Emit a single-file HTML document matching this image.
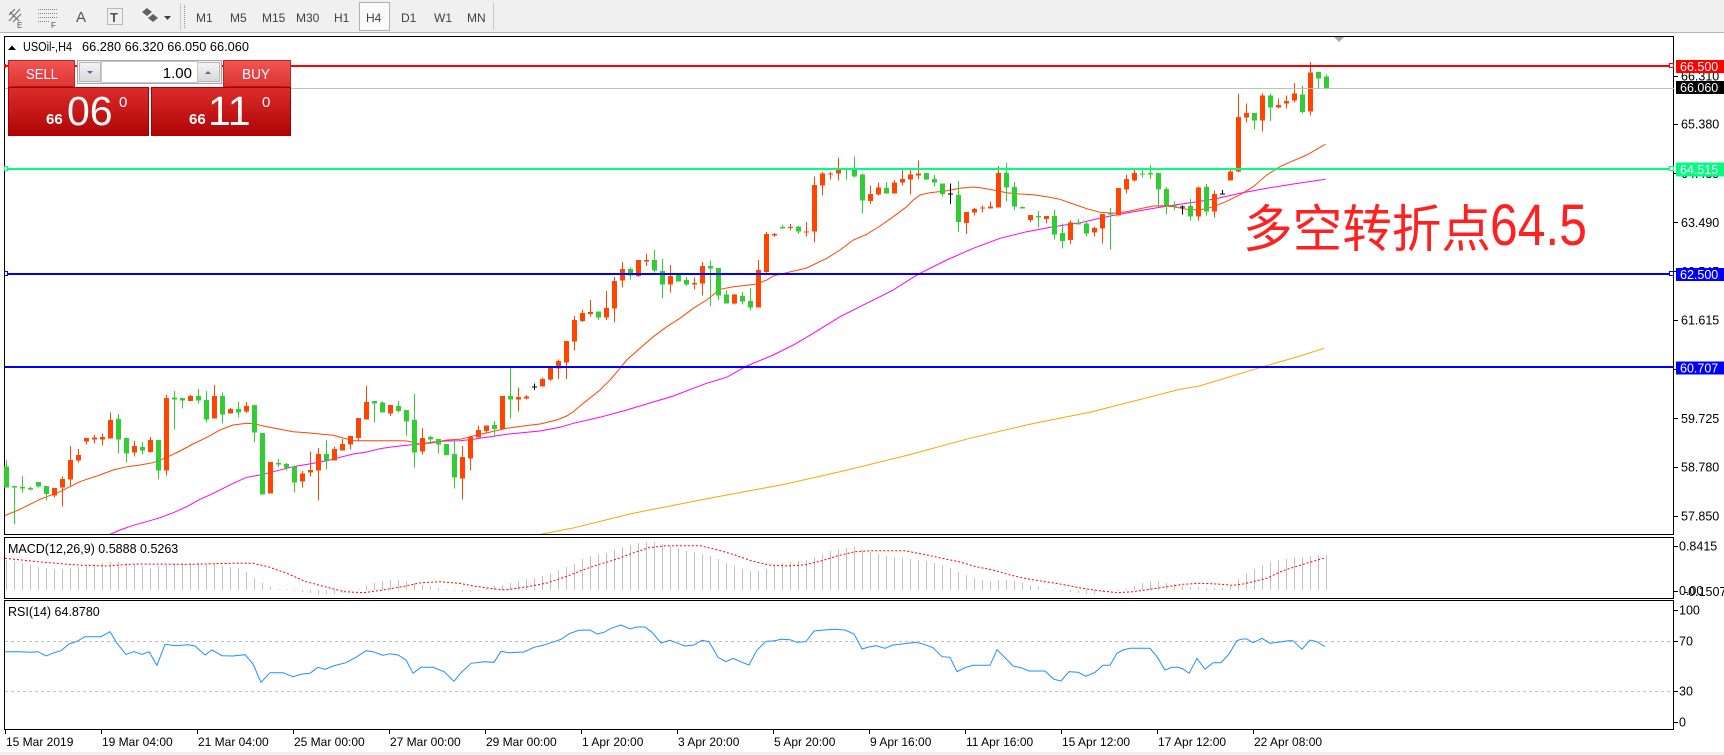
<!DOCTYPE html>
<html><head><meta charset="utf-8">
<style>
html,body{margin:0;padding:0;background:#fff;}
body{width:1724px;height:755px;overflow:hidden;}
svg{display:block;font-family:"Liberation Sans","Noto Sans CJK SC",sans-serif;}
</style></head><body>
<svg width="1724" height="755" viewBox="0 0 1724 755" xmlns="http://www.w3.org/2000/svg">
<defs>
<linearGradient id="gt" x1="0" y1="0" x2="0" y2="1"><stop offset="0" stop-color="#F25454"/><stop offset="1" stop-color="#DC3434"/></linearGradient>
<linearGradient id="gp" x1="0" y1="0" x2="0" y2="1"><stop offset="0" stop-color="#DC2C2C"/><stop offset="1" stop-color="#B00404"/></linearGradient>
<linearGradient id="gb" x1="0" y1="0" x2="0" y2="1"><stop offset="0" stop-color="#F4F4F4"/><stop offset="1" stop-color="#D8D8D8"/></linearGradient>
<clipPath id="cm"><rect x="5" y="37" width="1668" height="497"/></clipPath>
<clipPath id="cd"><rect x="5" y="538" width="1668" height="60"/></clipPath>
<clipPath id="cr"><rect x="5" y="601" width="1668" height="128"/></clipPath>
</defs>

<!-- toolbar -->
<rect x="0" y="0" width="1724" height="32" fill="#F0F0F0"/>
<line x1="0" y1="32.5" x2="1724" y2="32.5" stroke="#B4B4B4"/>
<g stroke="#707070" fill="none" stroke-width="1.2">
<path d="M9 21 L20 9 M9 15 L15 9 M13 22 L21 14 M10 12 L19 21"/>
</g>
<text x="17" y="28" font-size="8" fill="#505050">E</text>
<g stroke="#808080" stroke-dasharray="1 1">
<line x1="38" y1="9.5" x2="58" y2="9.5"/><line x1="38" y1="13.5" x2="58" y2="13.5"/><line x1="38" y1="17.5" x2="58" y2="17.5"/><line x1="38" y1="21.5" x2="50" y2="21.5"/>
</g>
<text x="51" y="28" font-size="8" fill="#505050">F</text>
<text x="76" y="22" font-size="15" fill="#555">A</text>
<rect x="107.5" y="8.5" width="15" height="16" fill="none" stroke="#808080" stroke-dasharray="1 1"/>
<text x="110" y="22" font-size="13" font-weight="bold" fill="#555">T</text>
<path d="M142 12 l5 -4 l5 4 l-5 4z M148 18 l5 -4 l5 4 l-5 4z" fill="#606060"/>
<path d="M164 16 h7 l-3.5 4z" fill="#404040"/>
<line x1="180.5" y1="3" x2="180.5" y2="30" stroke="#C8C8C8"/>
<line x1="184.5" y1="5" x2="184.5" y2="28" stroke="#909090" stroke-dasharray="1 1"/>
<rect x="359.5" y="2.5" width="30" height="28" fill="#FAFAFA" stroke="#B0B0B0"/>
<g font-size="12" fill="#404040">
<text x="196" y="22">M1</text><text x="230" y="22">M5</text><text x="262" y="22">M15</text><text x="296" y="22">M30</text>
<text x="334" y="22">H1</text><text x="366" y="22">H4</text><text x="401" y="22">D1</text><text x="434" y="22">W1</text><text x="467" y="22">MN</text>
</g>
<line x1="493.5" y1="3" x2="493.5" y2="30" stroke="#C8C8C8"/>

<!-- panels -->
<g fill="none" stroke="#000" stroke-width="1" shape-rendering="crispEdges">
<rect x="4.5" y="36.5" width="1669" height="498"/>
<rect x="4.5" y="537.5" width="1669" height="61"/>
<rect x="4.5" y="600.5" width="1669" height="129"/>
</g>

<!-- moving averages -->
<g clip-path="url(#cm)" fill="none" stroke-width="1">
<polyline stroke="#FFA500" points="537,535 571.8,528.3 633,513.3 709.5,498.3 786,484 847.3,470 908.5,455 969.7,438.3 1030.9,424 1092,411.7 1138,400 1180,389.3 1199.2,386 1263,366.7 1300,356 1324,348.3"/>
<polyline stroke="#FF00FF" points="108.3,535 120,530 133.3,525.3 150,520.7 160,517.7 173.3,512.7 186.7,506.7 200,499.3 213.3,493.3 233.3,483.3 246.7,477.3 260,475 273.3,471.7 293.3,466.7 313.3,463.3 326.7,460.7 340,457.3 353.3,454 366.7,452 380,448.7 393.3,446.7 406.7,445.3 420,444 433.3,442 446.7,441 460,440.7 473.3,439.3 506.7,434.3 540,431 560,427.3 573.3,423.3 600,417.3 626.7,410 653.3,402 673.3,396 693.3,388.3 706.7,383.3 726.7,377.3 746.7,366 773.3,355 793.3,345 813.3,333.3 840,316.7 866.7,303.3 893.3,290 910,279.3 920,273.3 946.7,260 973.3,248.3 1000,238.3 1026.7,231.7 1053.3,226.7 1080,222.7 1106.7,216.7 1133.3,211.7 1160,207.3 1186.7,203.3 1213.3,199.3 1240,193.3 1266.7,188.3 1293.3,184 1325.3,179.3"/>
<polyline stroke="#FF4500" points="4,516 20,509.3 40,499.3 60,491.7 80,481.7 86.7,479.3 100,475 113,470 127,466.7 140,465 153,462.7 167,457.3 180,451 193,444 207,437.3 220,430 233,425 247,423.3 253,423.7 267,426.7 280,429.3 293,431.7 307,432.7 320,434 333,435.3 347,439 353,440.7 373,440.7 400,440.7 407,441 420,444 433,442.7 447,440 460,439.3 473.3,436 506.7,428.3 523.3,426 540,424 556.7,420 566.7,416 573.3,411.7 583.3,403.3 600,390 610,380 620,368.3 626.7,360 640,348.3 653.3,336.7 666.7,326.7 680,318.3 693.3,308.3 706.7,300 720,289.3 733.3,286.7 746.7,285.3 756.7,284 766.7,280 773.3,276 786.7,272.7 806.7,268 826.7,258.3 840,250 853.3,240 866.7,234.3 880,226 893.3,216.7 906.7,206.7 913.3,200 920,195 930,192.7 946.7,190.7 960,188.3 973.3,187 980,187.7 993.3,190 1006.7,192.7 1020,194 1033.3,194.7 1046.7,196.7 1060,199.3 1073.3,204 1086.7,208.7 1100,212.3 1113.3,213.3 1126.7,211.7 1140,208.7 1153.3,206 1163.3,205.7 1173.3,206.7 1186.7,209.3 1200,210 1213.3,206.7 1226.7,201.3 1240,194.7 1253.3,186.7 1266.7,175 1280,166.7 1293.3,160.7 1306.7,155 1325.3,144.3"/>
</g>

<!-- candles -->
<g shape-rendering="crispEdges">
<g transform="translate(0,340) scale(1,0.333333)">
<path fill="#FF4500" d="M54 444h1v28h-1z M52 444h5v22h-5z M62 410h1v90h-1z M60 417h5v26h-5z M70 318h1v122h-1z M68 360h5v59h-5z M78 327h1v41h-1z M76 345h5v17h-5z M86 294h1v20h-1z M84 294h5v11h-5z M94 285h1v26h-1z M92 293h5v6h-5z M102 280h1v37h-1z M100 291h5v8h-5z M110 218h1v78h-1z M108 240h5v56h-5z M134 303h1v47h-1z M132 318h5v20h-5z M150 291h1v47h-1z M148 300h5v36h-5z M166 165h1v242h-1z M164 174h5v218h-5z M190 165h1v18h-1z M188 168h5v15h-5z M214 135h1v101h-1z M212 168h5v68h-5z M230 204h1v17h-1z M228 207h5v14h-5z M246 186h1v33h-1z M244 198h5v17h-5z M270 366h1v95h-1z M268 366h5v95h-5z M302 393h1v50h-1z M300 400h5v25h-5z M310 335h1v75h-1z M308 390h5v8h-5z M318 324h1v158h-1z M316 342h5v50h-5z M334 320h1v42h-1z M332 327h5v35h-5z M342 297h1v35h-1z M340 312h5v20h-5z M350 288h1v41h-1z M348 288h5v26h-5z M358 234h1v68h-1z M356 234h5v60h-5z M366 138h1v101h-1z M364 186h5v53h-5z M390 195h1v33h-1z M388 195h5v26h-5z M422 264h1v80h-1z M420 294h5v41h-5z M462 318h1v161h-1z M460 351h5v65h-5z M470 288h1v104h-1z M468 291h5v65h-5z"/>
<path fill="#32CD32" d="M6 360h1v83h-1z M4 380h5v63h-5z M14 438h1v114h-1z M12 438h5v5h-5z M22 408h1v50h-1z M20 441h5v5h-5z M30 440h1v12h-1z M28 444h5v5h-5z M38 426h1v16h-1z M36 426h5v14h-5z M46 438h1v44h-1z M44 438h5v24h-5z M118 222h1v119h-1z M116 237h5v62h-5z M126 292h1v76h-1z M124 294h5v47h-5z M142 306h1v38h-1z M140 321h5v11h-5z M158 300h1v119h-1z M156 300h5v92h-5z M174 153h1v116h-1z M172 172h5v7h-5z M182 174h1v32h-1z M180 174h5v8h-5z M198 147h1v43h-1z M196 168h5v14h-5z M206 153h1v94h-1z M204 180h5v59h-5z M222 158h1v93h-1z M220 168h5v56h-5z M238 186h1v47h-1z M236 207h5v11h-5z M254 195h1v113h-1z M252 195h5v83h-5z M262 279h1v185h-1z M260 279h5v185h-5z M278 357h1v24h-1z M276 369h5v5h-5z M286 369h1v22h-1z M284 372h5v12h-5z M294 377h1v81h-1z M292 380h5v48h-5z M326 300h1v89h-1z M324 342h5v20h-5z M374 183h1v65h-1z M372 183h5v8h-5z M382 184h1v34h-1z M380 188h5v30h-5z M398 183h1v35h-1z M396 198h5v15h-5z M406 210h1v77h-1z M404 210h5v35h-5z M414 162h1v221h-1z M412 240h5v98h-5z M430 288h1v26h-1z M428 291h5v8h-5z M438 297h1v44h-1z M436 297h5v17h-5z M446 312h1v35h-1z M444 312h5v33h-5z M454 300h1v146h-1z M452 342h5v71h-5z"/>
</g>
<g transform="translate(0,140) scale(1,0.333333)">
<path fill="#FF4500" d="M478 857h1v36h-1z M476 870h5v23h-5z M486 857h1v23h-1z M484 857h5v16h-5z M502 768h1v99h-1z M500 768h5v99h-5z M518 743h1v72h-1z M516 771h5v8h-5z M526 765h1v14h-1z M524 770h5v6h-5z M542 713h1v27h-1z M540 717h5v23h-5z M550 680h1v43h-1z M548 683h5v36h-5z M558 658h1v59h-1z M556 663h5v23h-5z M566 603h1v114h-1z M564 603h5v65h-5z M574 528h1v104h-1z M572 540h5v65h-5z M582 509h1v37h-1z M580 519h5v24h-5z M590 480h1v50h-1z M588 516h5v6h-5z M606 453h1v87h-1z M604 504h5v29h-5z M614 411h1v137h-1z M612 423h5v83h-5z M622 366h1v77h-1z M620 387h5v35h-5z M638 360h1v51h-1z M636 360h5v48h-5z M646 340h1v38h-1z M644 360h5v5h-5z M670 375h1v83h-1z M668 408h5v26h-5z M694 413h1v36h-1z M692 429h5v5h-5z M702 366h1v101h-1z M700 378h5v53h-5z M734 462h1v32h-1z M732 464h5v27h-5z M758 360h1v143h-1z M756 390h5v113h-5z M766 276h1v128h-1z M764 282h5v114h-5z M774 279h1v12h-1z M772 282h5v5h-5z M790 252h1v20h-1z M788 261h5v3h-5z M806 246h1v44h-1z M804 275h5v3h-5z M814 110h1v198h-1z M812 135h5v140h-5z M822 96h1v71h-1z M820 101h5v36h-5z M830 96h1v23h-1z M828 100h5v4h-5z M838 53h1v69h-1z M836 85h5v16h-5z M870 137h1v55h-1z M868 162h5v21h-5z M878 127h1v40h-1z M876 143h5v21h-5z M894 120h1v41h-1z M892 128h5v33h-5z M902 86h1v51h-1z M900 117h5v11h-5z M910 90h1v74h-1z M908 104h5v15h-5z M918 62h1v57h-1z M916 101h5v5h-5z"/>
<path fill="#32CD32" d="M494 843h1v44h-1z M492 855h5v12h-5z M510 680h1v156h-1z M508 768h5v11h-5z M598 514h1v26h-1z M596 514h5v19h-5z M630 383h1v36h-1z M628 387h5v20h-5z M654 330h1v68h-1z M652 360h5v32h-5z M662 357h1v119h-1z M660 393h5v41h-5z M678 402h1v23h-1z M676 404h5v21h-5z M686 411h1v27h-1z M684 420h5v14h-5z M710 362h1v138h-1z M708 378h5v8h-5z M718 384h1v96h-1z M716 384h5v83h-5z M726 452h1v39h-1z M724 464h5v27h-5z M742 456h1v38h-1z M740 468h5v17h-5z M750 444h1v68h-1z M748 483h5v20h-5z M782 255h1v11h-1z M780 261h5v5h-5z M798 258h1v24h-1z M796 260h5v15h-5z M846 86h1v33h-1z M844 86h5v3h-5z M854 50h1v63h-1z M852 87h5v23h-5z M862 101h1v120h-1z M860 104h5v78h-5z M886 126h1v36h-1z M884 144h5v17h-5z"/>
<path fill="#000" d="M534 731h1v19h-1z M532 739h5v3h-5z"/>
</g>
<g transform="translate(0,60) scale(1,0.333333)">
<path fill="#FF4500" d="M966 456h1v66h-1z M964 456h5v33h-5z M974 444h1v23h-1z M972 447h5v11h-5z M982 437h1v21h-1z M980 442h5v4h-5z M990 425h1v21h-1z M988 440h5v6h-5z M998 318h1v125h-1z M996 339h5v104h-5z M1030 465h1v21h-1z M1028 465h5v15h-5z M1046 468h1v23h-1z M1044 468h5v9h-5z M1070 482h1v70h-1z M1068 488h5v52h-5z M1094 500h1v30h-1z M1092 504h5v14h-5z M1102 462h1v89h-1z M1100 462h5v44h-5z M1118 384h1v83h-1z M1116 384h5v83h-5z M1126 344h1v57h-1z M1124 357h5v32h-5z M1134 327h1v38h-1z M1132 339h5v23h-5z M1198 380h1v102h-1z M1196 383h5v87h-5z M1214 392h1v81h-1z M1212 402h5v53h-5z M1230 329h1v33h-1z M1228 335h5v27h-5z M1238 101h1v237h-1z M1236 171h5v164h-5z M1246 131h1v57h-1z M1244 159h5v14h-5z M1262 101h1v114h-1z M1260 107h5v75h-5z M1278 116h1v30h-1z M1276 135h5v8h-5z M1286 107h1v39h-1z M1284 123h5v7h-5z M1294 69h1v59h-1z M1292 101h5v21h-5z M1310 6h1v161h-1z M1308 38h5v117h-5z"/>
<path fill="#32CD32" d="M926 339h1v21h-1z M924 339h5v20h-5z M934 343h1v37h-1z M932 357h5v11h-5z M942 370h1v40h-1z M940 370h5v32h-5z M958 363h1v153h-1z M956 405h5v81h-5z M1006 309h1v116h-1z M1004 339h5v44h-5z M1014 366h1v86h-1z M1012 381h5v59h-5z M1022 440h1v6h-1z M1020 441h5v4h-5z M1038 453h1v50h-1z M1036 468h5v5h-5z M1054 450h1v89h-1z M1052 468h5v56h-5z M1062 491h1v75h-1z M1060 519h5v24h-5z M1078 477h1v17h-1z M1076 488h5v6h-5z M1086 483h1v47h-1z M1084 491h5v30h-5z M1110 444h1v125h-1z M1108 461h5v3h-5z M1142 325h1v27h-1z M1140 340h5v3h-5z M1150 315h1v42h-1z M1148 339h5v4h-5z M1158 339h1v102h-1z M1156 339h5v50h-5z M1166 381h1v83h-1z M1164 387h5v50h-5z M1174 425h1v27h-1z M1172 436h5v4h-5z M1190 417h1v65h-1z M1188 438h5v32h-5z M1206 372h1v95h-1z M1204 381h5v74h-5z M1254 159h1v50h-1z M1252 159h5v23h-5z M1270 101h1v82h-1z M1268 107h5v36h-5z M1302 76h1v85h-1z M1300 104h5v52h-5z M1318 36h1v48h-1z M1316 36h5v19h-5z M1326 44h1v45h-1z M1324 50h5v36h-5z"/>
<path fill="#000" d="M950 370h1v62h-1z M948 401h5v3h-5z M1182 437h1v27h-1z M1180 439h5v3h-5z M1222 390h1v14h-1z M1220 401h5v3h-5z"/>
</g>
</g>

<!-- horizontal lines -->
<g shape-rendering="crispEdges">
<line x1="5" y1="88.5" x2="1674" y2="88.5" stroke="#C0C0C0"/>
<line x1="5" y1="66" x2="1669" y2="66" stroke="#FF0000" stroke-width="2"/>
<line x1="5" y1="169" x2="1669" y2="169" stroke="#00FF7F" stroke-width="2"/>
<line x1="5" y1="274" x2="1669" y2="274" stroke="#0000FF" stroke-width="2"/>
<line x1="5" y1="367" x2="1674" y2="367" stroke="#0000FF" stroke-width="2"/>
<rect x="1669.5" y="63.5" width="4" height="4" fill="#fff" stroke="#FF0000"/>
<rect x="1669.5" y="166.5" width="4" height="4" fill="#fff" stroke="#00FF7F"/>
<rect x="1669.5" y="271.5" width="4" height="4" fill="#fff" stroke="#0000FF"/>
<rect x="4.5" y="166.5" width="3" height="4" fill="#fff" stroke="#00FF7F"/>
<rect x="4.5" y="271.5" width="3" height="4" fill="#fff" stroke="#0000FF"/>
<rect x="4" y="64" width="2" height="4" fill="#FF0000"/>
</g>
<path d="M1334 37 h10 l-5 5z" fill="#A8A8A8"/>

<!-- MACD -->
<g clip-path="url(#cd)">
<path fill="none" stroke="#C0C0C0" stroke-width="1" shape-rendering="crispEdges" d="M6.5 590V560M14.5 590V561M22.5 590V563M30.5 590V565M38.5 590V567M46.5 590V568M54.5 590V569M62.5 590V569M70.5 590V568M78.5 590V567M86.5 590V566M94.5 590V564M102.5 590V563M110.5 590V562M118.5 590V562M126.5 590V563M134.5 590V564M142.5 590V566M150.5 590V568M158.5 590V566M166.5 590V565M174.5 590V563M182.5 590V563M190.5 590V563M198.5 590V563M206.5 590V564M214.5 590V564M222.5 590V566M230.5 590V567M238.5 590V568M246.5 590V572M254.5 590V578M262.5 590V583M270.5 590V587M278.5 590V589M286.5 590V589M294.5 590V591M302.5 590V592M310.5 590V593M318.5 590V595M326.5 590V594M334.5 590V594M342.5 590V593M350.5 590V591M358.5 590V589M366.5 590V586M374.5 590V583M382.5 590V581M390.5 590V580M398.5 590V580M406.5 590V581M414.5 590V583M422.5 590V585M430.5 590V586M438.5 590V588M446.5 590V589M454.5 590V591M462.5 590V592M470.5 590V592M478.5 590V591M486.5 590V588M494.5 590V586M502.5 590V585M510.5 590V583M518.5 590V581M526.5 590V579M534.5 590V578M542.5 590V576M550.5 590V573M558.5 590V570M566.5 590V567M574.5 590V564M582.5 590V559M590.5 590V556M598.5 590V554M606.5 590V553M614.5 590V550M622.5 590V547M630.5 590V545M638.5 590V543M646.5 590V542M654.5 590V542M662.5 590V544M670.5 590V546M678.5 590V548M686.5 590V551M694.5 590V552M702.5 590V554M710.5 590V556M718.5 590V559M726.5 590V563M734.5 590V566M742.5 590V569M750.5 590V571M758.5 590V571M766.5 590V569M774.5 590V566M782.5 590V563M790.5 590V562M798.5 590V561M806.5 590V560M814.5 590V557M822.5 590V554M830.5 590V551M838.5 590V549M846.5 590V548M854.5 590V547M862.5 590V550M870.5 590V552M878.5 590V554M886.5 590V556M894.5 590V557M902.5 590V558M910.5 590V559M918.5 590V560M926.5 590V561M934.5 590V563M942.5 590V565M950.5 590V568M958.5 590V572M966.5 590V575M974.5 590V578M982.5 590V580M990.5 590V581M998.5 590V580M1006.5 590V580M1014.5 590V581M1022.5 590V583M1030.5 590V585M1038.5 590V587M1046.5 590V589M1054.5 590V589M1062.5 590V591M1070.5 590V592M1078.5 590V593M1086.5 590V594M1094.5 590V594M1102.5 590V592M1110.5 590V591M1118.5 590V591M1126.5 590V589M1134.5 590V586M1142.5 590V583M1150.5 590V581M1158.5 590V581M1166.5 590V583M1174.5 590V584M1182.5 590V586M1190.5 590V587M1198.5 590V587M1206.5 590V588M1214.5 590V588M1222.5 590V588M1230.5 590V586M1238.5 590V579M1246.5 590V573M1254.5 590V569M1262.5 590V565M1270.5 590V562M1278.5 590V560M1286.5 590V559M1294.5 590V557M1302.5 590V557M1310.5 590V556M1318.5 590V555M1326.5 590V555"/>
<polyline fill="none" stroke="#FF0000" stroke-width="1" stroke-dasharray="2 2" points="5,558.3 38,561.7 77,565 107,566 134,564 191,564.3 230,563.3 253,563.3 268,566.7 287,573.3 306,581.7 325,586.7 344,591.7 364,592.7 383,590 402,586.7 421,582.7 440,581.7 459,583.3 478,586.7 498,589.3 505,590 528,586.7 547,583 565,577 580,571 597,565 614,560 632,553.3 649,547.7 666,545.7 700,545.7 718,550 735,555 752,561 769,565 787,566 804,565 821,561 838,555.7 855,551.7 873,550.7 904,550.7 924,554.3 942,558.3 959,561.7 976,566.7 993,570 1010,575 1028,579 1045,581.7 1062,584.3 1079,587.7 1096,590.3 1117,592.7 1133,591.7 1150,589.3 1167,586.7 1183,584.3 1200,583.3 1217,584 1233,585.3 1243,584 1253,581.7 1267,578.3 1277,573.3 1287,569.3 1300,565.3 1313,561.3 1325,558"/>
</g>
<text x="8" y="553" font-size="12.5" fill="#000">MACD(12,26,9) 0.5888 0.5263</text>

<!-- RSI -->
<g shape-rendering="crispEdges">
<line x1="5" y1="641.5" x2="1673" y2="641.5" stroke="#C0C0C0" stroke-dasharray="3 3"/>
<line x1="5" y1="691.5" x2="1673" y2="691.5" stroke="#C0C0C0" stroke-dasharray="3 3"/>
</g>
<g clip-path="url(#cr)">
<polyline fill="none" stroke="#1E90FF" stroke-width="1" points="5,651.7 19,651.7 31,652.3 38,651.7 46,656 54,652.7 61,650.7 69,644 77,641.3 85,636.7 101,636.7 110,631.7 117,643.3 126,654.3 134,651.7 142,654.3 149,651.7 157,665.3 165,644.3 176,645.7 188,644.7 195,646 205,655 212,650 222,655.7 233,656 245,654.7 253,664 261,682.3 270,672.7 283,672.7 293,676.7 302,674 310,673.3 318,667.3 325,669.3 333,666 346,662.7 356,657.3 366,650.7 373,651.7 383,655.3 390,653.7 398,655 406,660 413,673.3 421,667.3 433,667.3 444,671.7 454,681.3 461,672.7 471,663.3 484,661.7 494,662.3 501,651.3 509,652.7 524,652 534,647.3 543,645.3 551,642.7 561,639.3 570,633.3 579,630.3 590,630 597,634 604,632.3 611,628.3 621,625 630,629 637,627 645,627 652,632.3 661,643 670,640.3 676,642.7 685,646 694,645 702,640.3 709,641.7 718,657.3 726,661.7 733,658.3 742,662.3 749,665 757,650 766,641.3 775,640.7 781,639.3 790,639.7 797,642.3 806,641.7 814,631 821,630.3 835,629.3 845,630 854,634 862,649 869,647 876,645.7 885,648.3 893,645 904,643.7 916,642.3 924,644.3 933,647.7 942,656.7 950,657.3 957,671.7 966,667.3 973,665.3 990,665.3 997,649.7 1005,657.7 1013,666 1021,667.7 1029,671 1045,671 1054,679.3 1061,681 1069,671.7 1078,672.3 1086,676.3 1095,672.3 1103,665.3 1110,665.3 1117,653.3 1123,650 1130,648.3 1150,648.3 1157,656.7 1165,670 1172,667.3 1178,667.3 1183,669 1189,673.3 1197,658.3 1205,669.3 1213,662.7 1221,662.7 1229,654 1237,640.7 1242,639 1247,639 1253,642.7 1262,638.3 1270,643.3 1280,642 1288,640.7 1293,640.7 1302,649.3 1310,640 1317,641.7 1325,646.7"/>
</g>
<text x="8" y="616" font-size="12.5" fill="#000">RSI(14) 64.8780</text>

<!-- price axis ticks -->
<g stroke="#000" shape-rendering="crispEdges">
<path d="M1674 76.5h4M1674 124.5h4M1674 173.5h4M1674 222.5h4M1674 271.5h4M1674 320.5h4M1674 369.5h4M1674 418.5h4M1674 467.5h4M1674 516.5h4M1674 546.5h4M1674 591.5h4M1674 610.5h4M1674 641.5h4M1674 691.5h4M1674 722.5h4"/>
<path d="M5.5 730v4M101.5 730v4M197.5 730v4M293.5 730v4M389.5 730v4M485.5 730v4M581.5 730v4M677.5 730v4M773.5 730v4M869.5 730v4M965.5 730v4M1061.5 730v4M1157.5 730v4M1253.5 730v4"/>
</g>
<g font-size="12.5" fill="#000">
<text x="1681" y="80.5">66.310</text>
<text x="1681" y="128.5">65.380</text>
<text x="1681" y="178">64.435</text>
<text x="1681" y="227">63.490</text>
<text x="1681" y="276">62.545</text>
<text x="1681" y="324.5">61.615</text>
<text x="1681" y="374">60.670</text>
<text x="1681" y="423">59.725</text>
<text x="1681" y="471.5">58.780</text>
<text x="1681" y="520.5">57.850</text>
<text x="1679" y="550.5">0.8415</text>
<text x="1679" y="595">0.00</text>
<text x="1684" y="596">-0.1507</text>
<text x="1679" y="614.5">100</text>
<text x="1679" y="645.5">70</text>
<text x="1679" y="695.5">30</text>
<text x="1679" y="726.5">0</text>
</g>
<g shape-rendering="crispEdges">
<rect x="1676" y="60" width="48" height="13" fill="#FF0000"/>
<rect x="1676" y="81" width="48" height="13" fill="#000"/>
<rect x="1676" y="162.5" width="48" height="14" fill="#00FF7F"/>
<rect x="1676" y="268" width="48" height="13" fill="#0000FF"/>
<rect x="1676" y="361.5" width="48" height="13" fill="#0000FF"/>
</g>
<g font-size="12.5" fill="#fff">
<text x="1680" y="71">66.500</text>
<text x="1680" y="92">66.060</text>
<text x="1680" y="174">64.515</text>
<text x="1680" y="279">62.500</text>
<text x="1680" y="372.5">60.707</text>
</g>

<!-- time axis -->
<g font-size="12" fill="#000">
<text x="6" y="746">15 Mar 2019</text>
<text x="102" y="746">19 Mar 04:00</text>
<text x="198" y="746">21 Mar 04:00</text>
<text x="294" y="746">25 Mar 00:00</text>
<text x="390" y="746">27 Mar 00:00</text>
<text x="486" y="746">29 Mar 00:00</text>
<text x="582" y="746">1 Apr 20:00</text>
<text x="678" y="746">3 Apr 20:00</text>
<text x="774" y="746">5 Apr 20:00</text>
<text x="870" y="746">9 Apr 16:00</text>
<text x="966" y="746">11 Apr 16:00</text>
<text x="1062" y="746">15 Apr 12:00</text>
<text x="1158" y="746">17 Apr 12:00</text>
<text x="1254" y="746">22 Apr 08:00</text>
</g>
<rect x="0" y="752" width="1724" height="3" fill="#F0F0F0"/>

<!-- header -->
<path d="M8 50 L12 45.5 L16 50z" fill="#000"/>
<text x="23" y="51" font-size="12.5" fill="#000" textLength="49" lengthAdjust="spacingAndGlyphs">USOil-,H4</text>
<text x="82" y="51" font-size="12.5" fill="#000" textLength="167" lengthAdjust="spacingAndGlyphs">66.280 66.320 66.050 66.060</text>

<!-- trade panel -->
<rect x="8.5" y="60.5" width="66" height="26" fill="url(#gt)" stroke="#C02424"/>
<rect x="223.5" y="60.5" width="67" height="26" fill="url(#gt)" stroke="#C02424"/>
<line x1="12" y1="86.5" x2="72" y2="86.5" stroke="#B81818"/>
<line x1="227" y1="86.5" x2="287" y2="86.5" stroke="#B81818"/>
<text x="26" y="79" font-size="15" fill="#fff" textLength="32" lengthAdjust="spacingAndGlyphs">SELL</text>
<text x="242" y="79" font-size="15" fill="#fff" textLength="28" lengthAdjust="spacingAndGlyphs">BUY</text>
<rect x="77.5" y="60.5" width="144" height="23" fill="#F0F0F0" stroke="#A8A8A8"/>
<rect x="79.5" y="62.5" width="21" height="19" fill="url(#gb)" stroke="#B8B8B8"/>
<rect x="197.5" y="62.5" width="22" height="19" fill="url(#gb)" stroke="#B8B8B8"/>
<rect x="101.5" y="61.5" width="96" height="21" fill="#fff" stroke="#C8C8C8"/>
<path d="M87 71h6l-3 3z" fill="#5566AA"/>
<path d="M205 74h6l-3-3z" fill="#5566AA"/>
<text x="192" y="78" font-size="15" fill="#000" text-anchor="end">1.00</text>
<rect x="8.5" y="87.5" width="140" height="48" fill="url(#gp)" stroke="#A80000"/>
<rect x="151.5" y="87.5" width="139" height="48" fill="url(#gp)" stroke="#A80000"/>
<g fill="#fff">
<text x="46" y="124" font-size="15" font-weight="bold">66</text>
<text x="67" y="125" font-size="41">06</text>
<text x="119" y="107" font-size="15">0</text>
<text x="189" y="124" font-size="15" font-weight="bold">66</text>
<text x="208" y="125" font-size="41">11</text>
<text x="262" y="107" font-size="15">0</text>
</g>

<!-- annotation -->
<text x="1243" y="247" font-size="51" fill="#FF2020" font-family="'Noto Sans CJK SC','Liberation Sans',sans-serif" textLength="248" lengthAdjust="spacingAndGlyphs">多空转折点</text>
<text x="1490" y="245" font-size="58" fill="#FF2020" textLength="97" lengthAdjust="spacingAndGlyphs">64.5</text>
</svg>
</body></html>
